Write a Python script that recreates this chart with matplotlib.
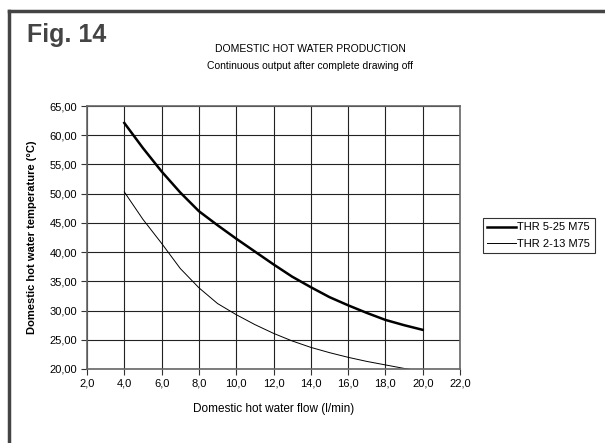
import matplotlib
matplotlib.use("Agg")
import matplotlib.pyplot as plt
from matplotlib.lines import Line2D
from matplotlib.ticker import FuncFormatter

# portata acqua calda sanitaria (l/min)
flow = [4, 5, 6, 7, 8, 9, 10, 11, 12, 13, 14, 15, 16, 17, 18, 19, 20]
# temperature
temp_thr525 = [62.1, 57.8, 53.8, 50.2, 47.0, 44.6, 42.3, 40.1, 37.9, 35.8, 34.0, 32.3, 30.9, 29.6, 28.4, 27.5, 26.7]
temp_thr213 = [50.3, 45.6, 41.5, 37.2, 33.9, 31.2, 29.3, 27.6, 26.1, 24.8, 23.7, 22.8, 22.0, 21.3, 20.7, 20.1, 19.6]
labels = ["THR 5-25 M75", "THR 2-13 M75"]

fig = plt.figure(figsize=(6.05, 4.43), dpi=100)
plt.rcParams['font.family'] = ['Liberation Sans', 'DejaVu Sans']

# cornice in alto e a sinistra
fig.add_artist(Line2D([9/605, 1], [1-11/443, 1-11/443], color='#444444', lw=2.5, transform=fig.transFigure))
fig.add_artist(Line2D([9/605, 9/605], [0, 1-11/443], color='#444444', lw=2.5, transform=fig.transFigure))

fig.text(27/605, 1-42/443, "Fig. 14", fontsize=18, fontweight='bold', color='#444444')
fig.text(310/605, 1-49/443, "DOMESTIC HOT WATER PRODUCTION", fontsize=7.5, ha='center', va='center')
fig.text(310/605, 1-66/443, "Continuous output after complete drawing off", fontsize=7.5, ha='center', va='center')

ax = fig.add_axes([87/605, 1-369/443, (460-87)/605, (369-106)/443])
l1, = ax.plot(flow, temp_thr525, color='black', lw=1.8)
l2, = ax.plot(flow, temp_thr213, color='black', lw=0.7)

ax.set_xlim(2, 22)
ax.set_ylim(20, 65)
ax.set_xticks(range(2, 23, 2))
ax.set_yticks(range(20, 66, 5))
ax.xaxis.set_major_formatter(FuncFormatter(lambda v, p: ("%.1f" % v).replace('.', ',')))
ax.yaxis.set_major_formatter(FuncFormatter(lambda v, p: ("%.2f" % v).replace('.', ',')))
ax.tick_params(labelsize=8, length=4, width=0.8, direction='out', color='#333333', pad=3)
ax.grid(True, color='#222222', lw=0.8)
for s in ax.spines.values():
    s.set_color('#666666')
    s.set_linewidth(1.2)

ax.set_xlabel("Domestic hot water flow (l/min)", fontsize=8.5, labelpad=10)
ax.set_ylabel("Domestic hot water temperature (°C)", fontsize=8, fontweight='bold', labelpad=9)

leg = fig.legend([l1, l2], labels, loc='upper left', bbox_to_anchor=(483/605, 1-218/443),
                 fontsize=8, frameon=True, fancybox=False, edgecolor='black',
                 handlelength=2.6, handletextpad=0.1, borderpad=0.4, labelspacing=0.55,
                 borderaxespad=0)
leg.get_frame().set_linewidth(0.8)

fig.savefig("out.png", dpi=100)
